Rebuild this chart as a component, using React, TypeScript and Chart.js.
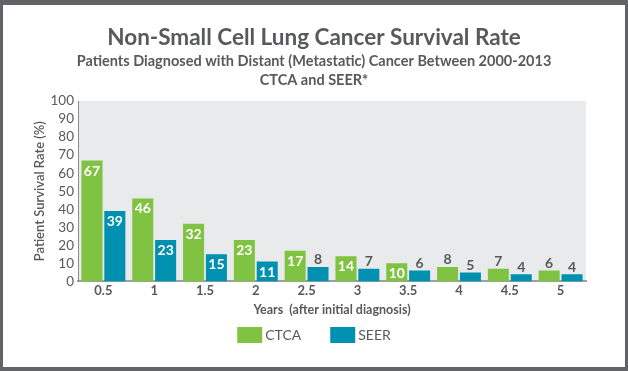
import React, { useEffect, useRef } from 'react';
import { Chart, registerables } from 'chart.js';

Chart.register(...registerables);

const categories = ['0.5', '1', '1.5', '2', '2.5', '3', '3.5', '4', '4.5', '5'];
const ctcaValues = [67, 46, 32, 23, 17, 14, 10, 8, 7, 6];
const seerValues = [39, 23, 15, 11, 8, 7, 6, 5, 4, 4];
const seriesNames = ['CTCA', 'SEER'];
const seriesColors = ['#80c241', '#0091b1'];
const titleText = 'Non-Small Cell Lung Cancer Survival Rate';
const subtitleLines = [
  'Patients Diagnosed with Distant (Metastatic) Cancer Between 2000-2013',
  'CTCA and SEER*',
];
const xTitle = 'Years  (after initial diagnosis)';
const yTitle = 'Patient Survival Rate (%)';

const FONT = 'Lato, "Open Sans", sans-serif';
const TEXT = '#58595b';

const plotBg = {
  id: 'plotBg',
  beforeDraw(chart: any) {
    const { ctx, chartArea: a } = chart;
    ctx.save();
    ctx.fillStyle = '#e9eaec';
    ctx.fillRect(a.left, a.top, a.right - a.left, a.bottom - a.top);
    ctx.restore();
  },
};

const titles = {
  id: 'titles',
  afterDraw(chart: any) {
    const ctx = chart.ctx;
    const cx = chart.width / 2;
    ctx.save();
    ctx.fillStyle = TEXT;
    ctx.textAlign = 'center';
    ctx.textBaseline = 'middle';
    ctx.font = `bold 22.5px ${FONT}`;
    ctx.fillText(titleText, cx, 33);
    ctx.font = `bold 14.5px ${FONT}`;
    subtitleLines.forEach((line, i) => ctx.fillText(line, cx, 56 + i * 19));
    ctx.restore();
  },
};

const valueLabels = {
  id: 'valueLabels',
  afterDatasetsDraw(chart: any) {
    const ctx = chart.ctx;
    ctx.save();
    ctx.font = `bold 14px ${FONT}`;
    ctx.textAlign = 'center';
    ctx.textBaseline = 'middle';
    chart.data.datasets.forEach((ds: any, di: number) => {
      const meta = chart.getDatasetMeta(di);
      meta.data.forEach((bar: any, i: number) => {
        const v = ds.data[i] as number;
        const inside = v >= 10;
        ctx.fillStyle = inside ? '#ffffff' : TEXT;
        const y = inside ? bar.y + 10.5 : bar.y - 7;
        ctx.fillText(String(v), bar.x, y);
      });
    });
    ctx.restore();
  },
};

const customLegend = {
  id: 'customLegend',
  afterDraw(chart: any) {
    const ctx = chart.ctx;
    ctx.save();
    ctx.font = `14px ${FONT}`;
    ctx.textBaseline = 'middle';
    ctx.textAlign = 'left';
    const boxW = 25;
    const boxH = 16;
    const textGap = 3;
    const itemGap = 29;
    const items = chart.data.datasets.map((ds: any) => ({
      label: ds.label as string,
      color: ds.backgroundColor as string,
      w: ctx.measureText(ds.label).width,
    }));
    let total = 0;
    items.forEach((it: any, i: number) => {
      total += boxW + textGap + it.w + (i < items.length - 1 ? itemGap : 0);
    });
    let x = (chart.width - total) / 2;
    const cy = chart.height - 32;
    items.forEach((it: any) => {
      ctx.fillStyle = it.color;
      ctx.fillRect(x, cy - boxH / 2, boxW, boxH);
      x += boxW + textGap;
      ctx.fillStyle = TEXT;
      ctx.fillText(it.label, x, cy + 0.5);
      x += it.w + itemGap;
    });
    ctx.restore();
  },
};

export default function App() {
  const ref = useRef<HTMLCanvasElement>(null);
  useEffect(() => {
    document.body.style.margin = '0';
    const chart = new Chart(ref.current!, {
      type: 'bar',
      data: {
        labels: categories,
        datasets: [
          {
            label: seriesNames[0],
            data: ctcaValues,
            backgroundColor: seriesColors[0],
            categoryPercentage: 0.9,
            barPercentage: 0.92,
          },
          {
            label: seriesNames[1],
            data: seerValues,
            backgroundColor: seriesColors[1],
            categoryPercentage: 0.9,
            barPercentage: 0.92,
          },
        ],
      },
      options: {
        animation: false,
        responsive: false,
        layout: { padding: { top: 96, left: 0, right: 39, bottom: 46 } },
        plugins: {
          legend: { display: false },
          tooltip: { enabled: false },
          title: { display: false },
        },
        scales: {
          x: {
            grid: { display: false, drawTicks: false },
            border: { display: true, color: '#9d9fa2', width: 2 },
            ticks: { color: TEXT, font: { family: FONT, size: 13, weight: 'bold' }, padding: 2 },
            title: {
              display: true,
              text: xTitle,
              color: TEXT,
              font: { family: FONT, size: 12.5, weight: 'bold' },
              padding: { top: 1, bottom: 4 },
            },
          },
          y: {
            min: 0,
            max: 100,
            afterFit(scale: any) {
              scale.width = 75;
            },
            grid: { display: false, drawTicks: false },
            border: { display: true, color: '#8a8c8e', width: 1 },
            ticks: {
              stepSize: 10,
              autoSkip: false,
              color: TEXT,
              font: { family: FONT, size: 13.5 },
              padding: 4,
            },
            title: {
              display: true,
              text: yTitle,
              color: TEXT,
              font: { family: FONT, size: 13, weight: '600' },
              padding: { top: 29, bottom: 4 },
            },
          },
        },
      },
      plugins: [plotBg, valueLabels, customLegend, titles],
    });
    return () => chart.destroy();
  }, []);
  return (
    <div
      style={{
        width: 628,
        height: 371,
        boxSizing: 'border-box',
        borderStyle: 'solid',
        borderColor: '#626366',
        borderWidth: '5px 3px 4px 3px',
        background: '#ffffff',
      }}
    >
      <canvas ref={ref} width={622} height={362} style={{ display: 'block' }} />
    </div>
  );
}
